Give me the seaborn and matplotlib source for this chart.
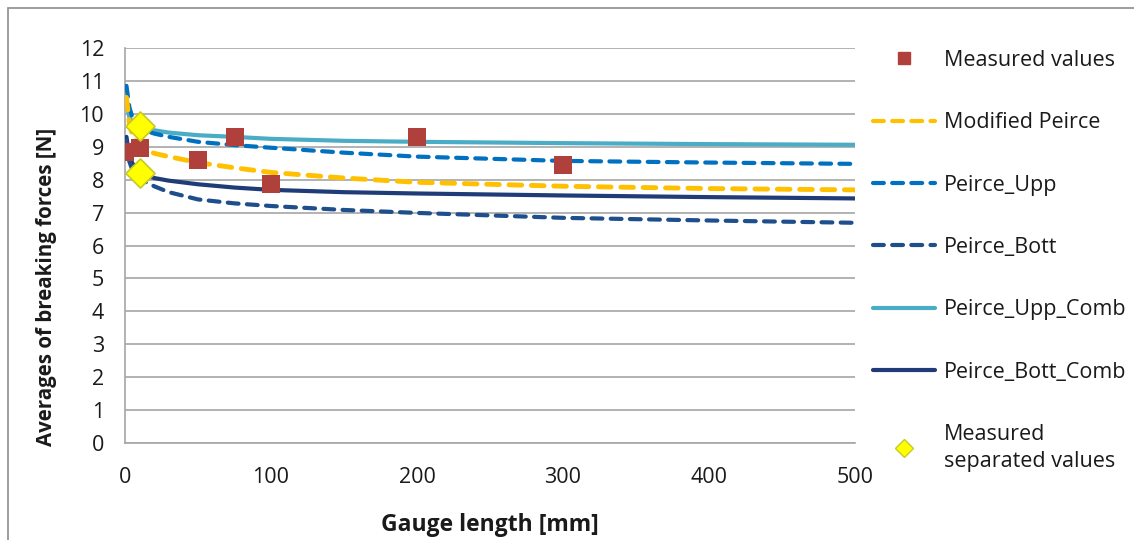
import matplotlib
matplotlib.use("Agg")
import matplotlib.pyplot as plt
import seaborn as sns
from matplotlib.lines import Line2D
from matplotlib.patches import Rectangle

# ---- data ----
meas_x = [0, 10, 50, 75, 100, 200, 300]
meas_y = [8.85, 8.95, 8.6, 9.3, 7.87, 9.3, 8.45]

sep_x = [10, 10]
sep_y = [9.62, 8.2]

curve_x = [1, 3, 5, 10, 20, 30, 50, 75, 100, 150, 200, 300, 400, 500]
mod_peirce = [10.5, 9.7, 9.35, 9.0, 8.8, 8.7, 8.52, 8.36, 8.22, 8.05, 7.92, 7.8, 7.73, 7.69]
peirce_upp = [10.85, 10.2, 9.9, 9.55, 9.4, 9.3, 9.15, 9.05, 8.97, 8.82, 8.7, 8.57, 8.52, 8.48]
peirce_bott = [9.2, 8.55, 8.3, 8.02, 7.8, 7.62, 7.4, 7.28, 7.2, 7.08, 6.99, 6.84, 6.76, 6.69]
peirce_upp_comb = [10.3, 9.9, 9.75, 9.6, 9.5, 9.43, 9.35, 9.3, 9.24, 9.18, 9.15, 9.11, 9.08, 9.06]
peirce_bott_comb = [9.3, 8.7, 8.5, 8.22, 8.05, 7.97, 7.86, 7.76, 7.69, 7.62, 7.58, 7.52, 7.47, 7.43]

x_ticks = [0, 100, 200, 300, 400, 500]
y_ticks = list(range(0, 13))

# ---- style ----
sns.set_style("white")
plt.rcParams["font.family"] = ["Open Sans", "DejaVu Sans"]

fig = plt.figure(figsize=(11.34, 5.4), dpi=100)
ax = fig.add_axes([125 / 1134, 1 - 443 / 540, (855 - 125) / 1134, (443 - 48) / 540])

c_yellow = "#FFC000"
c_upp = "#0070C0"
c_bott = "#1F4E8C"
c_uppc = "#4BACC6"
c_bottc = "#1F3C78"
c_meas = "#B0403C"
txt = "#1a1a1a"

lw = 3.0
dash = (2.6, 2.0)

series = [
    ("Peirce_Upp_Comb", peirce_upp_comb, c_uppc, lw, None),
    ("Peirce_Bott_Comb", peirce_bott_comb, c_bottc, lw, None),
    ("Peirce_Upp", peirce_upp, c_upp, lw, dash),
    ("Peirce_Bott", peirce_bott, c_bott, lw, dash),
    ("Modified Peirce", mod_peirce, c_yellow, lw + 0.5, dash),
]
for name, vals, col, w, d in series:
    sns.lineplot(x=curve_x, y=vals, ax=ax, color=col, lw=w, zorder=3)
    if d is not None:
        ax.lines[-1].set_dashes(d)
        ax.lines[-1].set_dash_capstyle("round")

sns.scatterplot(x=meas_x, y=meas_y, ax=ax, marker="s", s=150, color=c_meas, edgecolor=c_meas,
                linewidth=0, zorder=5)
sns.scatterplot(x=sep_x, y=sep_y, ax=ax, marker="D", s=220, color="#FFFF00", edgecolor="#C8C828",
                linewidth=1.2, zorder=6)

ax.set_xlim(0, 500)
ax.set_ylim(0, 12)
ax.set_xticks(x_ticks)
ax.set_yticks(y_ticks)
ax.yaxis.grid(True, color="#A6A6A6", lw=1.2)
ax.xaxis.grid(False)
for s in ["top", "right"]:
    ax.spines[s].set_visible(False)
for s in ["left", "bottom"]:
    ax.spines[s].set_color("#A6A6A6")
    ax.spines[s].set_linewidth(1.2)
ax.tick_params(axis="both", direction="out", length=5, width=1.2, color="#A6A6A6",
               labelsize=15.5, labelcolor=txt)
ax.tick_params(axis="x", pad=12)
ax.tick_params(axis="y", pad=10)
ax.set_xlabel("Gauge length [mm]", fontsize=16.5, fontweight="bold", color=txt)
ax.set_ylabel("Averages of breaking forces [N]", fontsize=14.8, fontweight="bold", color=txt)
ax.xaxis.set_label_coords(0.5, -(525 - 443) / 395, transform=ax.transAxes)
ax.xaxis.label.set_va("center")
ax.yaxis.set_label_coords(-(125 - 47) / 730, (443 - 287) / 395, transform=ax.transAxes)
ax.yaxis.label.set_va("center")

# legend
handles = [
    Line2D([], [], marker="s", color=c_meas, ls="none", markersize=9),
    Line2D([], [], color=c_yellow, lw=lw, dashes=dash, dash_capstyle="round"),
    Line2D([], [], color=c_upp, lw=lw, dashes=dash, dash_capstyle="round"),
    Line2D([], [], color=c_bott, lw=lw, dashes=dash, dash_capstyle="round"),
    Line2D([], [], color=c_uppc, lw=lw),
    Line2D([], [], color=c_bottc, lw=lw),
    Line2D([], [], marker="D", color="#FFFF00", markeredgecolor="#C8C828", ls="none", markersize=9),
]
labels = ["Measured values", "Modified Peirce", "Peirce_Upp", "Peirce_Bott",
          "Peirce_Upp_Comb", "Peirce_Bott_Comb", "Measured\nseparated values"]
leg = ax.legend(handles, labels, loc="upper left", bbox_to_anchor=(873 / 1134, 1 - 50 / 540),
                bbox_transform=fig.transFigure, frameon=False, fontsize=15.5,
                handlelength=2.9, handletextpad=0.38, labelspacing=1.92, borderaxespad=0,
                borderpad=0, labelcolor=txt)
leg.get_texts()[-1].set_linespacing(1.35)

# outer chart border
fig.patches.append(Rectangle((8 / 1134, -0.05), 1.2, 1 - 8 / 540 + 0.05, transform=fig.transFigure,
                             fill=False, edgecolor="#8C8C8C", lw=1.2))

fig.savefig("out.png", dpi=100)
